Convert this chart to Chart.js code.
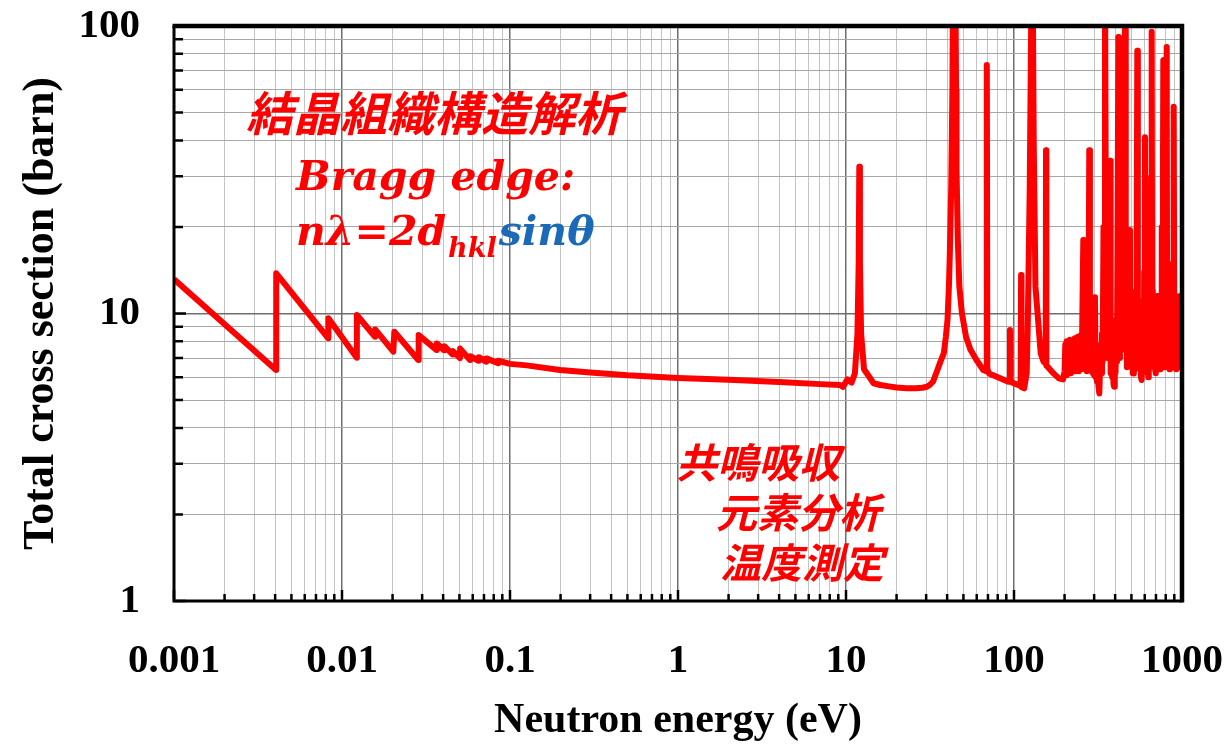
<!DOCTYPE html>
<html>
<head>
<meta charset="utf-8">
<script src="https://cdn.jsdelivr.net/npm/chart.js@4"></script>
<style>
  html, body { margin: 0; padding: 0; background: #fff; }
  #wrap { width: 1228px; height: 746px; position: relative; }
</style>
</head>
<body>
<div id="wrap"><canvas id="c"></canvas></div>
<script>
// Neutron energy (eV) and total cross section (barn), read point by point
const energy = [
  // Bragg-edge region
  0.001, 0.00405, 0.00406, 0.00829, 0.0083, 0.01224, 0.01226, 0.01572, 0.01575,
  0.0202, 0.0205, 0.02846, 0.0286, 0.03662, 0.0367, 0.0405, 0.0407, 0.0455, 0.0457,
  0.05039, 0.0505, 0.0578, 0.058, 0.065, 0.0652, 0.072, 0.0722, 0.085, 0.0852,
  0.1, 0.1257, 0.1985, 0.3, 0.5, 1, 2, 4, 7, 9.2, 9.6, 10.2, 10.8, 11.3,
  // isolated resonances
  11.7, 11.9, 12.0, 12.1, 12.3, 12.8, 14.6, 16, 18, 20, 23, 26, 28.5, 30.3, 31.5, 33, 35, 36.5, 38.2, 39.3, 40.2, 41, 41.5, 42.3, 43.0, 43.5,
  44.6, 45.2, 45.5, 46.3, 47.3, 49, 51.8, 55, 59.8, 65.6, 68.4, 68.9, 69.4, 71, 82.8, 92.4, 94.2,
  94.6, 95.0, 99.7, 109.5, 110.2, 110.8, 115, 119, 120.9, 124.1, 126.5, 127.0, 128.8, 131,
  134.2, 144.2, 150, 154.5, 155.1, 155.8, 172, 185, 196,
  // dense resonance region
  200, 202, 204, 206, 208, 210, 213, 215, 218, 220, 223, 225, 228, 230, 233, 235, 238, 240,
  243, 245, 248, 250, 253, 255, 258.5, 260, 263, 266, 268, 271, 274, 277, 280.5, 283, 286, 289,
  292, 295, 298, 300, 303.4, 306, 309, 312, 315, 318, 322, 326, 330, 334, 337, 341, 344, 348,
  351, 354, 357, 360, 364, 367, 370, 373, 376, 380, 384, 388, 391, 394, 398, 402, 406, 410,
  414, 418, 421, 424, 427, 430, 433, 436, 440, 444, 448, 452, 456, 458, 461, 464, 467, 470,
  474, 478, 482, 486, 490, 493, 497, 501, 505, 509, 513, 517, 521, 525, 529, 533, 538, 542,
  546, 550, 554, 558, 562, 566, 570, 575, 579, 583, 587, 591, 596, 602, 606, 610, 614, 618,
  622, 626, 630, 634, 638, 642, 646, 650, 655, 660, 664, 668, 672, 676, 680, 684, 688, 692,
  696, 700, 705, 709, 714, 718, 722, 727, 731, 736, 741, 745, 750, 755, 760, 765, 770, 774,
  778, 782, 787, 792, 796, 800, 805, 811, 815, 820, 825, 830, 836, 842, 848, 854, 860, 866,
  872, 878, 884, 890, 895, 900, 905, 910, 916, 922, 928, 934, 940, 946, 952, 958, 964, 970,
  976, 982, 988, 994, 1000
];
const sigma = [
  13.15, 6.36, 13.8, 8.2, 9.62, 7.02, 9.88, 8.3, 8.8,
  7.37, 8.64, 6.89, 8.41, 7.46, 7.87, 7.45, 7.7, 7.2, 7.4,
  7.0, 7.55, 6.89, 7.1, 6.85, 7.05, 6.8, 6.98, 6.72, 6.85,
  6.68, 6.6, 6.36, 6.24, 6.1, 5.97, 5.88, 5.78, 5.68, 5.64, 5.56, 5.9, 5.75, 6.2,
  8.5, 15, 32.4, 15, 8.5, 6.4, 5.72, 5.64, 5.58, 5.53, 5.5, 5.5, 5.52, 5.56, 5.64, 5.8, 6.36, 6.8, 7.27, 8.3, 9.5, 12.5, 16.2, 27.6, 60, 200,
  200, 60, 31.5, 18, 12.4, 10, 8.3, 7.5, 6.89, 6.36, 6.3, 73.2, 6.4, 6.19, 5.95, 5.79, 5.8,
  8.76, 5.8, 5.72, 5.6, 13.6, 5.55, 5.49, 6.2, 9.5, 27.6, 100, 200, 200, 40,
  12.4, 7.27, 6.8, 6.7, 37, 6.6, 6.19, 5.95, 5.9,
  6.3, 7.8, 6.1, 8.0, 6.2, 7.9, 6.3, 8.1, 6.2, 8.0, 6.4, 7.9, 6.3, 8.2, 6.3, 8.1, 6.4, 8.3,
  6.3, 8.2, 6.5, 8.4, 6.4, 9.5, 18.0, 6.6, 8.6, 6.4, 8.8, 6.3, 9.5, 6.6, 37, 6.5, 8.6, 6.3,
  8.4, 6.2, 7.6, 6.1, 11.4, 6.0, 7.8, 5.8, 7.4, 5.6, 5.27, 6.8, 6.2, 8.5, 6.8, 20, 9, 200,
  35, 8, 30, 7, 33, 8, 28, 34, 6.2, 8.5, 6.0, 8, 5.7, 5.56, 7.5, 6.2, 9.5, 6.8,
  22, 91.5, 25, 7, 20, 8, 12, 20, 7.5, 22, 8, 12, 30, 200, 20, 8, 15, 6.5,
  11, 6.8, 15, 7, 19.5, 7, 10, 6.5, 10, 6.2, 6.19, 9.5, 6.4, 10, 6.6, 12, 22, 82,
  8, 11, 6.8, 11, 6.4, 9, 6.0, 5.87, 9, 6.5, 10, 6.4, 14, 41, 7, 10, 6.5, 9.5,
  6.2, 9, 6.0, 10, 6.5, 11, 7, 12, 30, 95.5, 12, 7, 11.5, 6.6, 11, 6.5, 11, 6.4,
  10.5, 6.2, 11, 6.5, 11.5, 6.6, 11, 6.4, 10.5, 6.6, 11.5, 6.4, 11, 20, 7, 11, 30, 76,
  10, 6.8, 11.5, 6.5, 11, 7, 25, 84.6, 10, 7, 11.5, 6.6, 11, 6.4, 11, 6.6, 11.5, 6.5,
  11, 7, 15, 30, 52.4, 8, 11, 6.6, 11.5, 6.4, 11, 6.5, 11, 6.6, 10.5, 6.5, 11, 6.6,
  11.5, 6.8, 11, 7, 11
];

// Axis ranges and decade labels
const xDecades = [0.001, 0.01, 0.1, 1, 10, 100, 1000];
const xTickLabels = ['0.001', '0.01', '0.1', '1', '10', '100', '1000'];
const yDecades = [1, 10, 100];
const yTickLabels = ['1', '10', '100'];

const SERIF = '"Liberation Serif", "Times New Roman", serif';

function isDecade(v) {
  const l = Math.log10(v);
  return Math.abs(l - Math.round(l)) < 1e-6;
}
function decadeLabel(v, decades, labels) {
  for (let i = 0; i < decades.length; i++) {
    if (Math.abs(v / decades[i] - 1) < 1e-6) return labels[i];
  }
  return '';
}
// 1..9 x 10^n ticks between the first and last decade
function logTicks(decades) {
  const out = [];
  for (let i = 0; i < decades.length; i++) {
    const d = decades[i];
    if (i === decades.length - 1) { out.push({ value: d }); break; }
    for (let m = 1; m <= 9; m++) out.push({ value: +(m * d).toPrecision(6) });
  }
  return out;
}

// Frame, inward tick marks and the text annotations
const decorPlugin = {
  id: 'decor',
  afterDatasetsDraw(chart) {
    const ctx = chart.ctx;
    const a = chart.chartArea;
    const xs = chart.scales.x, ys = chart.scales.y;
    ctx.save();
    ctx.strokeStyle = '#000';
    ctx.lineWidth = 2.5;
    ctx.beginPath();
    xs.ticks.forEach(t => {
      const p = xs.getPixelForValue(t.value);
      const L = isDecade(t.value) ? 11 : 7;
      ctx.moveTo(p, a.bottom); ctx.lineTo(p, a.bottom - L);
    });
    ys.ticks.forEach(t => {
      const p = ys.getPixelForValue(t.value);
      const L = isDecade(t.value) ? 12 : 9;
      ctx.moveTo(a.left, p); ctx.lineTo(a.left + L, p);
    });
    ctx.stroke();
    // frame
    ctx.lineWidth = 3;
    ctx.beginPath();
    ctx.moveTo(a.left, a.top); ctx.lineTo(a.left, a.bottom); ctx.lineTo(a.right, a.bottom);
    ctx.stroke();
    ctx.lineWidth = 4.5;
    ctx.beginPath();
    ctx.moveTo(a.left - 1.5, a.top); ctx.lineTo(a.right, a.top); ctx.lineTo(a.right, a.bottom + 1.5);
    ctx.stroke();

    // annotations
    ctx.fillStyle = '#ff0000';
    ctx.textBaseline = 'alphabetic';
    ctx.textAlign = 'left';
    ctx.font = 'italic bold 47px "Noto Sans CJK JP", sans-serif';
    ctx.fillText('結晶組織構造解析', 246, 131);

    const bi = 'italic bold 41px "DejaVu Serif", serif';
    ctx.font = bi;
    ctx.fillText('Bragg edge:', 296, 190);
    let x = 296;
    ctx.fillText('nλ=2d', x, 245);
    x += ctx.measureText('nλ=2d').width;
    ctx.font = 'italic bold 27px "DejaVu Serif", serif';
    ctx.fillText('hkl', x + 2, 257);
    x += ctx.measureText('hkl').width + 4;
    ctx.font = bi;
    ctx.fillStyle = '#1a6ab8';
    ctx.fillText('sinθ', x, 245);

    ctx.fillStyle = '#ff0000';
    ctx.font = 'italic bold 41px "Noto Sans CJK JP", sans-serif';
    ctx.fillText('共鳴吸収', 676, 478);
    ctx.fillText('元素分析', 716, 528);
    ctx.fillText('温度測定', 720, 578);
    ctx.restore();
  }
};

const points = energy.map((e, i) => ({ x: e, y: sigma[i] }));

new Chart(document.getElementById('c'), {
  type: 'scatter',
  data: {
    datasets: [{
      data: points,
      showLine: true,
      borderColor: '#ff0000',
      borderWidth: 6,
      pointRadius: 0,
      tension: 0,
      borderJoinStyle: 'round'
    }]
  },
  options: {
    responsive: true,
    maintainAspectRatio: false,
    animation: false,
    layout: { padding: { top: 26, right: 46, left: 0, bottom: 0 } },
    plugins: { legend: { display: false }, tooltip: { enabled: false } },
    scales: {
      x: {
        type: 'logarithmic',
        position: 'bottom',
        min: 0.001, max: 1000,
        afterBuildTicks: s => { s.ticks = logTicks(xDecades); },
        afterFit: s => { s.height = 145; s.paddingLeft = 0; s.paddingRight = 0; },
        ticks: {
          autoSkip: false,
          maxRotation: 0,
          padding: 36,
          color: '#000',
          font: { family: SERIF, weight: 'bold', size: 41 },
          callback: v => decadeLabel(v, xDecades, xTickLabels)
        },
        grid: {
          drawTicks: false,
          color: c => isDecade(c.tick.value) ? '#6e6e6e' : '#c4c4c4',
          lineWidth: c => isDecade(c.tick.value) ? 1.5 : 1
        },
        border: { display: false },
        title: {
          display: true,
          text: 'Neutron energy (eV)',
          color: '#000',
          font: { family: SERIF, weight: 'bold', size: 42 },
          padding: { top: 0, bottom: 0 }
        }
      },
      y: {
        type: 'logarithmic',
        position: 'left',
        min: 1, max: 100,
        afterBuildTicks: s => { s.ticks = logTicks(yDecades); },
        afterFit: s => { s.width = 174; s.paddingTop = 0; s.paddingBottom = 0; },
        ticks: {
          autoSkip: false,
          padding: 34,
          color: '#000',
          font: { family: SERIF, weight: 'bold', size: 41 },
          callback: v => decadeLabel(v, yDecades, yTickLabels)
        },
        grid: {
          drawTicks: false,
          color: c => isDecade(c.tick.value) ? '#6e6e6e' : '#a8a8a8',
          lineWidth: c => isDecade(c.tick.value) ? 1.5 : 1
        },
        border: { display: false },
        title: {
          display: true,
          text: 'Total cross section (barn)',
          color: '#000',
          font: { family: SERIF, weight: 'bold', size: 44 },
          padding: { top: 15, bottom: 0 }
        }
      }
    }
  },
  plugins: [decorPlugin]
});
</script>
</body>
</html>
